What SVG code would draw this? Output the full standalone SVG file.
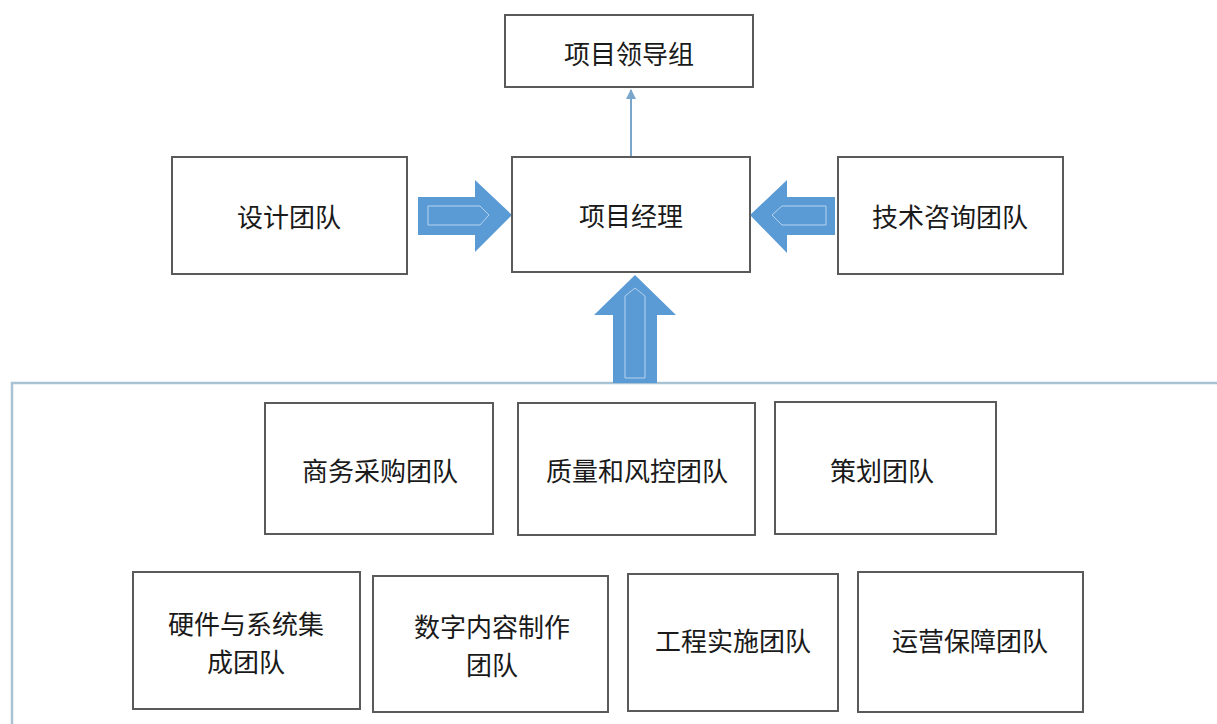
<svg xmlns="http://www.w3.org/2000/svg" width="1217" height="724" viewBox="0 0 1217 724">
<style>
.box{fill:#fff;stroke:#5a5a5a;stroke-width:2}
.t{font-family:"Noto Sans CJK SC","Noto Sans",sans-serif;font-size:26px;fill:#1a1a1a;text-anchor:middle}
.big{fill:#5b9bd5}
.hl{fill:none;stroke:#b5d3ef;stroke-width:1}
.frame{fill:none;stroke:#a9c3d4;stroke-width:2.5}
</style>
<defs>
<marker id="ah" viewBox="0 0 10 10" refX="9" refY="5" markerWidth="5" markerHeight="5" orient="auto">
<path d="M0,0 L10,5 L0,10 Z" fill="#7aa6cc"/>
</marker>
</defs>
<rect width="1217" height="724" fill="#fff"/>
<path class="frame" d="M12,724 L12,383 L1217,383"/>
<g id="connectors">
<line x1="631" y1="157" x2="631" y2="90" stroke="#7aa6cc" stroke-width="2" marker-end="url(#ah)"/>
<path class="big" d="M418,197 L475,197 L475,180 L512,215 L475,252 L475,235 L418,235 Z"/>
<path class="hl" d="M428,206 L480,206 L489,215 L480,225 L428,225 Z"/>
<path class="big" d="M835,197 L787,197 L787,180 L750,215 L787,253 L787,235 L835,235 Z"/>
<path class="hl" d="M826,206 L782,206 L772,215 L782,225 L826,225 Z"/>
<path class="big" d="M613,383 L613,315 L594,315 L635,275 L676,315 L657,315 L657,383 Z"/>
<path class="hl" d="M625,378 L625,296 L635,288 L645,296 L645,378 Z"/>
</g>
<g id="n-leader"><rect class="box" x="505" y="15" width="248" height="72"/><text class="t" x="629" y="64">项目领导组</text></g>
<g id="n-pm"><rect class="box" x="512" y="157" width="238" height="115"/><text class="t" x="631" y="226">项目经理</text></g>
<g id="n-design"><rect class="box" x="172" y="157" width="235" height="117"/><text class="t" x="289" y="227">设计团队</text></g>
<g id="n-tech"><rect class="box" x="838" y="157" width="225" height="117"/><text class="t" x="950" y="227">技术咨询团队</text></g>
<g id="n-biz"><rect class="box" x="265" y="403" width="228" height="131"/><text class="t" x="380" y="481">商务采购团队</text></g>
<g id="n-qa"><rect class="box" x="518" y="403" width="237" height="132"/><text class="t" x="637" y="481">质量和风控团队</text></g>
<g id="n-plan"><rect class="box" x="775" y="402" width="221" height="132"/><text class="t" x="882" y="481">策划团队</text></g>
<g id="n-hw"><rect class="box" x="133" y="572" width="227" height="137"/><text class="t" x="246" y="634">硬件与系统集</text><text class="t" x="246" y="672">成团队</text></g>
<g id="n-dc"><rect class="box" x="373" y="576" width="235" height="136"/><text class="t" x="492" y="637">数字内容制作</text><text class="t" x="492" y="675">团队</text></g>
<g id="n-eng"><rect class="box" x="628" y="574" width="210" height="137"/><text class="t" x="733" y="651">工程实施团队</text></g>
<g id="n-ops"><rect class="box" x="858" y="572" width="225" height="140"/><text class="t" x="970" y="651">运营保障团队</text></g>
</svg>
